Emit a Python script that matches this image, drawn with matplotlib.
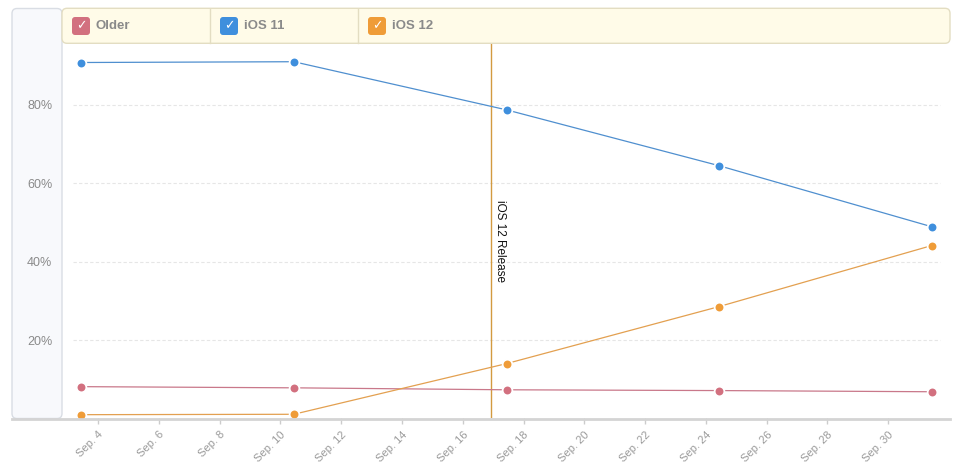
import numpy as np
import pandas as pd
import matplotlib
matplotlib.use("Agg")
import matplotlib.pyplot as plt
import matplotlib.dates as mdates
from matplotlib.patches import FancyBboxPatch
from matplotlib.lines import Line2D
from matplotlib.transforms import IdentityTransform

plt.rcParams['font.family'] = ['Liberation Sans', 'DejaVu Sans']

# Daten (Anteil in %)
dates = pd.to_datetime(["2018-09-03 10:48", "2018-09-10 10:34", "2018-09-17 10:48",
                        "2018-09-24 10:05", "2018-10-01 10:19"])
series = ["Older", "iOS 11", "iOS 12"]
older = [8.1, 7.8, 7.3, 7.1, 6.8]
ios11 = [90.8, 91.0, 78.7, 64.5, 48.9]
ios12 = [0.95, 1.05, 14.0, 28.5, 44.1]
colors = ["#d2707f", "#3f8fdd", "#ef9c38"]
line_colors = ["#c9788a", "#4f8fcf", "#e3a050"]

release_date = pd.Timestamp("2018-09-16 22:00")
release_label = "iOS 12 Release"

W, H = 968, 462
fig = plt.figure(figsize=(W / 100, H / 100), dpi=100)
fig.patch.set_facecolor("white")


def px(x0, x1, y0, y1):
    # Pixel (von oben) -> Figure-Koordinaten
    return [x0 / W, 1 - y1 / H, (x1 - x0) / W, (y1 - y0) / H]


ax = fig.add_axes(px(62, 950, 43.3, 418.4))
ax.set_facecolor("none")

# Linke Leiste
left_panel = FancyBboxPatch((12, H - 418.5), 50, 410, boxstyle="round,pad=0,rounding_size=5",
                            transform=IdentityTransform(), facecolor="#f8f9fc",
                            edgecolor="#d9dde4", linewidth=1.0, zorder=0)
fig.add_artist(left_panel)

# Legende oben
leg_box = FancyBboxPatch((62, H - 43.3), 888, 35, boxstyle="round,pad=0,rounding_size=5",
                         transform=IdentityTransform(), facecolor="#fffbe8",
                         edgecolor="#e3ddc2", linewidth=1.0, zorder=1)
fig.add_artist(leg_box)
for sx in [210, 358]:
    fig.add_artist(Line2D([sx, sx], [H - 43, H - 8.5], transform=IdentityTransform(),
                          color="#e3ddc2", linewidth=1.0, zorder=2))

for i, (name, c) in enumerate(zip(series, colors)):
    x0 = 72 + i * 148
    box = FancyBboxPatch((x0, H - 35), 18, 18, boxstyle="round,pad=0,rounding_size=3",
                         transform=IdentityTransform(), facecolor=c, edgecolor="none", zorder=3)
    fig.add_artist(box)
    fig.text((x0 + 9) / W, 1 - 26 / H, "\u2713", color="white", fontsize=9,
             fontweight="bold", family="DejaVu Sans", ha="center", va="center", zorder=4)
    fig.text((x0 + 24) / W, 1 - 26 / H, name, color="#8a8a8a", fontsize=9.5,
             fontweight="bold", ha="left", va="center", zorder=4)

# Achsenlinie unten
fig.add_artist(Line2D([12, 950], [H - 418.7, H - 418.7], transform=IdentityTransform(),
                      color="#d4d4d4", linewidth=2.0, zorder=2))

# Gitter
for gy in [20, 40, 60, 80]:
    ax.hlines(gy, 0.0124, 0.989, transform=ax.get_yaxis_transform(),
              colors="#e6e6e6", linestyles=(0, (3, 2)), linewidth=0.8, zorder=1)

# Linien
for vals, c, lc in zip([older, ios11, ios12], colors, line_colors):
    ax.plot(dates, vals, "-", color=lc, linewidth=0.9, zorder=3)
    ax.plot(dates, vals, "o", color=c, markersize=7, markeredgecolor="white",
            markeredgewidth=1.3, zorder=4)

# Release Markierung
ax.axvline(release_date, color="#d39a40", linewidth=1.0, zorder=2)
ax.text(release_date + pd.Timedelta(hours=3), 55.7, release_label, rotation=270,
        ha="left", va="top", fontsize=8.5, color="#111111", zorder=5)

ax.set_ylim(0, 95.7)
ax.set_xlim(pd.Timestamp("2018-09-02 19:30"), pd.Timestamp("2018-10-02 00:45"))
ax.set_yticks([20, 40, 60, 80])
ax.set_yticklabels(["%d%%" % v for v in [20, 40, 60, 80]])
ax.tick_params(axis="y", length=0, pad=7, labelsize=9, labelcolor="#8a8a8a")

ax.xaxis.set_major_locator(mdates.DayLocator(bymonthday=range(4, 31, 2)))
ax.xaxis.set_major_formatter(plt.FuncFormatter(lambda v, p: "Sep. %d" % mdates.num2date(v).day))
ax.tick_params(axis="x", length=4, width=1, color="#cccccc", pad=4, labelsize=8,
               labelcolor="#9a9a9a")
for lab in ax.get_xticklabels():
    lab.set_rotation(45)
    lab.set_ha("right")
    lab.set_rotation_mode("anchor")

for s in ax.spines.values():
    s.set_visible(False)

fig.savefig("out.png", dpi=100)
